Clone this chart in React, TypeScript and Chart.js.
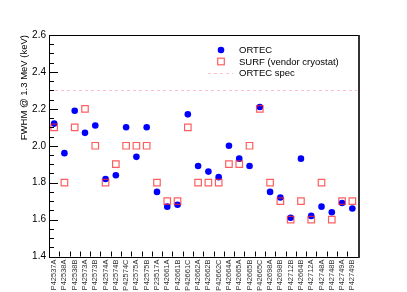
import React, { useEffect, useRef } from "react";
import { Chart, registerables } from "chart.js";

Chart.register(...registerables);

const categories = [
  "P42537A", "P42538A", "P42538B", "P42573A", "P42573B", "P42574A", "P42574B", "P42574C",
  "P42575A", "P42575B", "P23517A", "P42661A", "P42661B", "P42661C", "P42662A", "P42662B",
  "P42662C", "P42664A", "P42665A", "P42665B", "P42665C", "P42698A", "P42698B", "P42712B",
  "P42664B", "P42712A", "P42748A", "P42748B", "P42749A", "P42749B",
];

const ortecValues = [
  2.12, 1.96, 2.19, 2.07, 2.11, 1.82, 1.84, 2.10, 1.94, 2.10, 1.75, 1.67, 1.68, 2.17, 1.89,
  1.86, 1.83, 2.00, 1.93, 1.89, 2.21, 1.75, 1.72, 1.61, 1.93, 1.62, 1.67, 1.64, 1.69, 1.66,
];

const surfValues = [
  2.10, 1.80, 2.10, 2.20, 2.00, 1.80, 1.90, 2.00, 2.00, 2.00, 1.80, 1.70, 1.70, 2.10, 1.80,
  1.80, 1.80, 1.90, 1.90, 2.00, 2.20, 1.80, 1.70, 1.60, 1.70, 1.60, 1.80, 1.60, 1.70, 1.70,
];

const specValue = 2.3;
const yMin = 1.4;
const yMax = 2.6;
const yStep = 0.2;
const yMinorStep = 0.05;

const seriesNames = ["ORTEC", "SURF (vendor cryostat)", "ORTEC spec"];
const yTitle = "FWHM @ 1.3 MeV (keV)";

const BLUE = "#0000ff";
const SQUARE = "rgba(255,40,40,0.75)";
const SPEC = "rgba(255,120,140,0.45)";
const FONT = "'Liberation Sans', Arial, Helvetica, sans-serif";

const framePlugin = {
  id: "rootFrame",
  beforeDatasetsDraw(chart: any) {
    const { ctx, chartArea } = chart;
    const y = chart.scales.y.getPixelForValue(specValue);
    ctx.save();
    ctx.strokeStyle = SPEC;
    ctx.lineWidth = 1;
    ctx.setLineDash([3, 3]);
    ctx.beginPath();
    ctx.moveTo(chartArea.left, Math.round(y) + 0.5);
    ctx.lineTo(chartArea.right, Math.round(y) + 0.5);
    ctx.stroke();
    ctx.restore();
  },
  afterDraw(chart: any) {
    const { ctx, chartArea } = chart;
    const { left, right, top, bottom } = chartArea;
    const ys = chart.scales.y;
    const xs = chart.scales.x;
    ctx.save();
    // frame
    ctx.strokeStyle = "#000";
    ctx.lineWidth = 1;
    ctx.beginPath();
    ctx.moveTo(Math.round(left) + 0.5, Math.round(bottom) + 0.5);
    ctx.lineTo(Math.round(left) + 0.5, Math.round(top) + 0.5);
    ctx.lineTo(Math.round(right) + 0.5, Math.round(top) + 0.5);
    ctx.moveTo(Math.round(left) + 0.5, Math.round(bottom) + 0.5);
    ctx.lineTo(Math.round(right) + 0.5, Math.round(bottom) + 0.5);
    ctx.stroke();
    ctx.strokeStyle = "#333";
    ctx.lineWidth = 2;
    ctx.beginPath();
    ctx.moveTo(Math.round(right) + 1, Math.round(top));
    ctx.lineTo(Math.round(right) + 1, Math.round(bottom) + 1);
    ctx.stroke();

    // y ticks (inward)
    ctx.strokeStyle = "#000";
    ctx.lineWidth = 1;
    ctx.beginPath();
    const nMinor = Math.round((yMax - yMin) / yMinorStep);
    const perMajor = Math.round(yStep / yMinorStep);
    for (let i = 0; i <= nMinor; i++) {
      const v = yMin + i * yMinorStep;
      const py = Math.round(ys.getPixelForValue(v)) + 0.5;
      const len = i % perMajor === 0 ? 9 : 5;
      ctx.moveTo(left, py);
      ctx.lineTo(left + len, py);
    }
    ctx.stroke();

    // x ticks at bin edges
    ctx.beginPath();
    const n = categories.length;
    const w = (right - left) / n;
    for (let i = 1; i < n; i++) {
      const px = Math.round(left + i * w) + 0.5;
      ctx.moveTo(px, bottom);
      ctx.lineTo(px, bottom - 5);
    }
    ctx.stroke();

    // legend
    const lx = 221;
    const rows = [50, 61.5, 73];
    const tx = 239;
    ctx.fillStyle = BLUE;
    ctx.beginPath();
    ctx.arc(lx, rows[0], 3.3, 0, Math.PI * 2);
    ctx.fill();
    ctx.strokeStyle = SQUARE;
    ctx.lineWidth = 1.2;
    ctx.strokeRect(lx - 3.3, rows[1] - 3.3, 6.6, 6.6);
    ctx.strokeStyle = SPEC;
    ctx.lineWidth = 1;
    ctx.setLineDash([3, 3]);
    ctx.beginPath();
    ctx.moveTo(208, Math.round(rows[2]) + 0.5);
    ctx.lineTo(233, Math.round(rows[2]) + 0.5);
    ctx.stroke();
    ctx.setLineDash([]);
    ctx.fillStyle = "#000";
    ctx.font = `9.5px ${FONT}`;
    ctx.textBaseline = "middle";
    ctx.textAlign = "left";
    seriesNames.forEach((name, i) => ctx.fillText(name, tx, rows[i] + 0.5));
    ctx.restore();
  },
};

export default function App() {
  const ref = useRef<HTMLCanvasElement>(null);
  useEffect(() => {
    if (!ref.current) return;
    Chart.defaults.font.family = FONT;
    const chart = new Chart(ref.current, {
      type: "line",
      data: {
        labels: categories,
        datasets: [
          {
            label: seriesNames[1],
            data: surfValues,
            showLine: false,
            pointStyle: "rect",
            pointRadius: 4.6,
            pointBorderWidth: 1.2,
            pointBorderColor: SQUARE,
            pointBackgroundColor: "rgba(0,0,0,0)",
            order: 0,
          },
          {
            label: seriesNames[0],
            data: ortecValues,
            showLine: false,
            pointStyle: "circle",
            pointRadius: 3.3,
            pointBorderWidth: 0,
            pointBackgroundColor: BLUE,
            pointBorderColor: BLUE,
            order: 1,
          },
        ],
      },
      plugins: [framePlugin],
      options: {
        animation: false,
        responsive: false,
        layout: { padding: { top: 35, right: 49.5, left: 0, bottom: 0 } },
        plugins: { legend: { display: false }, tooltip: { enabled: false } },
        scales: {
          x: {
            type: "category",
            offset: true,
            grid: { display: false, drawTicks: false },
            border: { display: false },
            ticks: {
              autoSkip: false,
              minRotation: 90,
              maxRotation: 90,
              padding: 3,
              color: "#333",
              font: { size: 7.5, family: FONT },
            },
            afterFit: (s: any) => {
              s.height = 35.5;
            },
          },
          y: {
            min: yMin,
            max: yMax,
            grid: { display: false, drawTicks: false },
            border: { display: false },
            ticks: {
              stepSize: yStep,
              padding: 3,
              color: "#000",
              font: { size: 10, family: FONT },
            },
            title: {
              display: true,
              text: yTitle,
              align: "end",
              color: "#000",
              padding: { top: 19, bottom: 0 },
              font: { size: 9.5, family: FONT },
            },
            afterFit: (s: any) => {
              s.width = 49;
            },
          },
        },
      },
    } as any);
    return () => chart.destroy();
  }, []);
  return (
    <div style={{ position: "absolute", left: 0, top: 0, width: 407, height: 292, background: "#fff" }}>
      <canvas ref={ref} width={407} height={292} style={{ display: "block" }} />
    </div>
  );
}
